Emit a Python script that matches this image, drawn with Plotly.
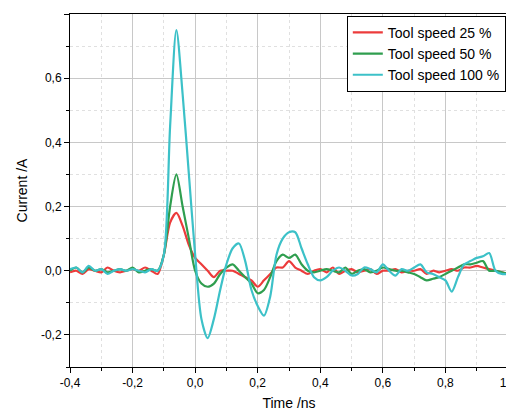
import plotly.graph_objects as go

x = [round(-0.4 + 0.02*i, 2) for i in range(71)]
# values at x = -0.40, -0.38, ..., 1.00
red = [-0.005,0.0,-0.01,0.005,0.0,-0.005,0.01,0.0,-0.005,0.0,0.005,0.0,0.01,
       0.0,-0.01,0.05,0.15,0.18,0.14,0.08,0.04,0.02,0.0,-0.02,0.0,0.0,0.0,-0.01,-0.02,
       -0.03,-0.05,-0.03,-0.01,0.01,0.01,0.03,0.01,0.0,-0.01,0.0,0.005,-0.005,0.01,-0.01,
       0.0,0.005,-0.005,0.0,0.005,-0.01,0.0,0.0,0.005,-0.005,0.0,0.0,0.005,-0.01,0.0,
       -0.005,0.0,0.005,0.0,0.01,0.01,0.015,0.01,0.005,0.0,-0.005,-0.01]
green = [0.0,0.01,-0.005,0.01,0.0,0.005,-0.005,0.0,0.005,0.0,0.01,-0.005,0.0,
         0.005,0.0,0.05,0.2,0.3,0.2,0.1,0.0,-0.04,-0.05,-0.04,-0.01,0.01,0.02,0.0,-0.02,
         -0.04,-0.07,-0.06,-0.02,0.03,0.05,0.04,0.05,0.02,0.0,-0.005,0.0,0.005,0.0,-0.005,
         0.01,-0.01,0.0,0.005,-0.005,0.0,0.01,0.005,0.0,0.0,-0.005,-0.01,-0.02,-0.03,-0.025,
         -0.02,-0.01,0.0,0.01,0.02,0.02,0.025,0.03,0.0,0.0,-0.005,-0.01]
teal = [0.005,0.01,-0.005,0.015,0.0,0.005,-0.01,0.0,0.005,0.0,0.005,0.0,-0.005,
        0.005,0.0,0.05,0.45,0.75,0.55,0.3,0.05,-0.15,-0.21,-0.15,-0.06,0.02,0.07,0.085,0.03,
        -0.06,-0.11,-0.14,-0.08,0.05,0.1,0.12,0.12,0.07,0.02,-0.02,-0.03,-0.02,0.0,0.01,
        0.0,-0.015,-0.01,0.01,0.005,-0.005,0.02,0.0,-0.015,0.005,0.0,0.01,0.02,-0.005,-0.01,
        -0.02,-0.03,-0.065,-0.02,0.02,0.03,0.04,0.045,0.055,0.0,-0.01,-0.01]

names = ["Tool speed 25 %", "Tool speed 50 %", "Tool speed 100 %"]
colors = ["#ec3b3b", "#2f9e4f", "#3cc1c8"]
xticks = [-0.4,-0.2,0.0,0.2,0.4,0.6,0.8,1.0]
yticks = [-0.2,0.0,0.2,0.4,0.6,0.8]
fmt = lambda v: f"{v:.1f}".replace(".", ",")

fig = go.Figure()
for n, c, y in zip(names, colors, [red, green, teal]):
    fig.add_trace(go.Scatter(x=x, y=y, name=n, mode="lines",
                             line=dict(color=c, width=2.2, shape="spline", smoothing=0.8)))

ax = dict(showline=True, linecolor="black", linewidth=1, mirror=True, ticks="outside",
          ticklen=5, tickcolor="black", gridcolor="#c8c8c8", gridwidth=1, zeroline=False,
          tickfont=dict(size=12, color="black"), automargin=False,
          minor=dict(showgrid=True, gridcolor="#e0e0e0", griddash="dot", ticks="outside", ticklen=3, tickcolor="black"))
fig.update_layout(
    width=514, height=414, plot_bgcolor="white", paper_bgcolor="white",
    font=dict(family="Liberation Sans, Arial", size=12, color="black"),
    margin=dict(l=62, r=14, t=6, b=55, autoexpand=False),
    xaxis=dict(ax, range=[-0.4, 1.0], tickvals=xticks, ticktext=[fmt(v) for v in xticks],
               minor_dtick=0.1, title=dict(text="Time /ns", font=dict(size=14), standoff=8)),
    yaxis=dict(ax, range=[-0.3, 0.8], tickvals=yticks, ticktext=[fmt(v) for v in yticks],
               minor_dtick=0.1, title=dict(text="Current /A", font=dict(size=14), standoff=10)),
    legend=dict(x=0.995, y=0.995, xanchor="right", yanchor="top", bgcolor="white",
                bordercolor="black", borderwidth=1, font=dict(size=14), tracegroupgap=0),
    showlegend=True,
)
fig.write_html("out.html")
